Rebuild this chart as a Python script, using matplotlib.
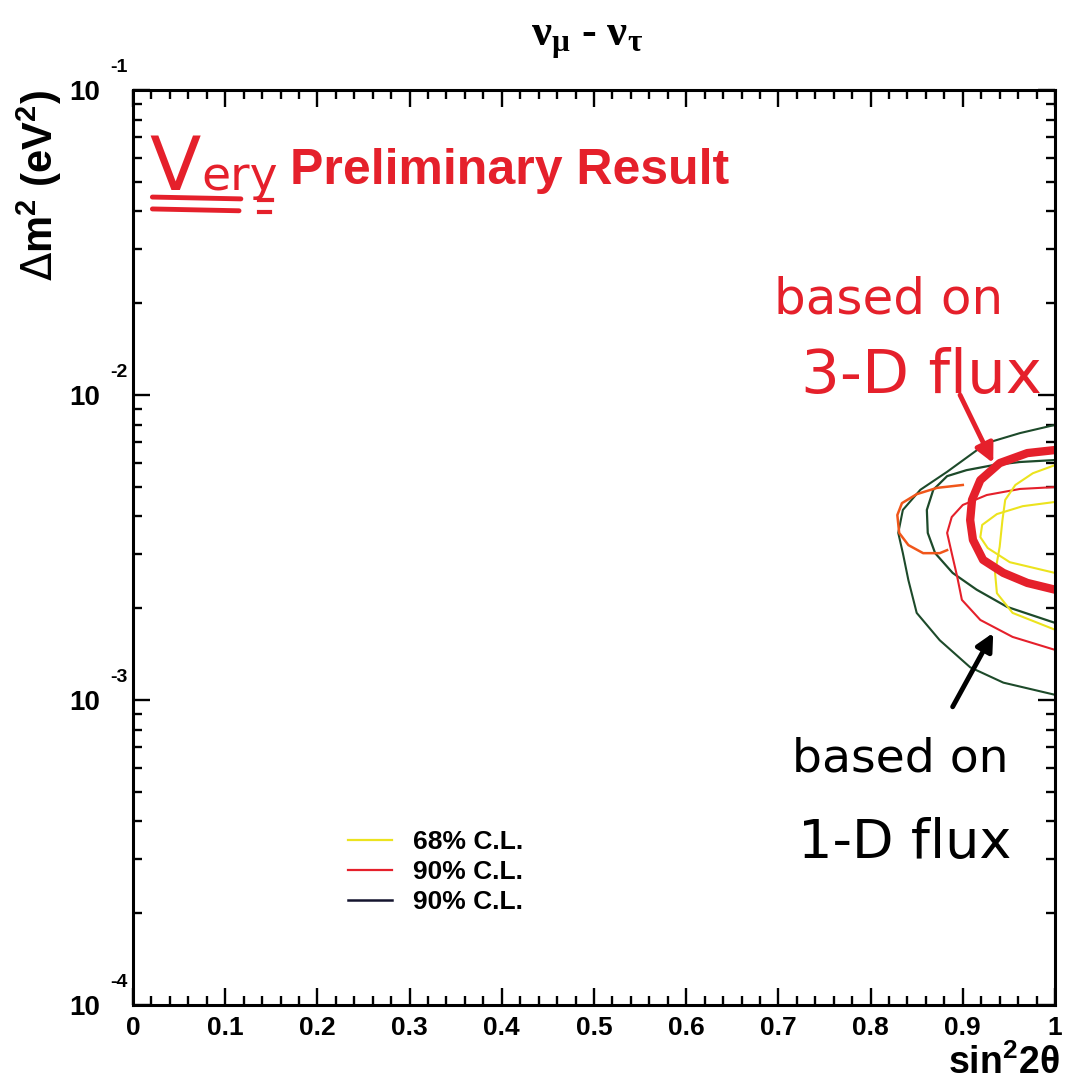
import matplotlib
matplotlib.use("Agg")
import matplotlib.pyplot as plt
from matplotlib.lines import Line2D
from matplotlib.ticker import FixedLocator, FixedFormatter, MultipleLocator, LogLocator, NullFormatter

# ---- data: sin^2(2theta) vs delta m^2 (eV^2) allowed-region contours ----
# 1-D flux, 90% C.L. (outer, dark line)
oned90_outer_x = [1.0, 0.962, 0.926, 0.883, 0.854, 0.835, 0.830, 0.835, 0.841, 0.850, 0.875, 0.908, 0.944, 1.0]
oned90_outer_y = [7.98e-3, 7.5e-3, 6.96e-3, 5.6e-3, 4.89e-3, 4.2e-3, 3.53e-3, 3.03e-3, 2.47e-3, 1.93e-3, 1.57e-3, 1.28e-3, 1.14e-3, 1.04e-3]

# 90% C.L. (inner, dark line)
black90_x = [1.0, 0.962, 0.933, 0.904, 0.883, 0.868, 0.861, 0.862, 0.870, 0.889, 0.915, 0.948, 1.0]
black90_y = [6.12e-3, 6.03e-3, 5.89e-3, 5.67e-3, 5.42e-3, 4.89e-3, 4.2e-3, 3.53e-3, 3.03e-3, 2.61e-3, 2.30e-3, 2.02e-3, 1.79e-3]

# 90% C.L. (thin red)
red90_x = [1.0, 0.962, 0.926, 0.900, 0.888, 0.883, 0.888, 0.894, 0.899, 0.919, 0.954, 1.0]
red90_y = [4.99e-3, 4.92e-3, 4.70e-3, 4.36e-3, 3.98e-3, 3.53e-3, 3.03e-3, 2.53e-3, 2.13e-3, 1.83e-3, 1.61e-3, 1.46e-3]

# 90% C.L. (orange island)
orange90_x = [0.900, 0.872, 0.850, 0.834, 0.829, 0.831, 0.841, 0.857, 0.875, 0.883]
orange90_y = [5.07e-3, 4.96e-3, 4.73e-3, 4.42e-3, 4.04e-3, 3.53e-3, 3.22e-3, 3.03e-3, 3.03e-3, 3.10e-3]

# 68% C.L. (outer yellow)
yel68_outer_x = [1.0, 0.976, 0.957, 0.946, 0.943, 0.940, 0.935, 0.937, 0.954, 1.0]
yel68_outer_y = [5.89e-3, 5.54e-3, 5.07e-3, 4.53e-3, 3.89e-3, 3.18e-3, 2.61e-3, 2.24e-3, 1.93e-3, 1.70e-3]

# 68% C.L. (inner yellow)
yel68_inner_x = [1.0, 0.965, 0.937, 0.921, 0.919, 0.927, 0.951, 1.0]
yel68_inner_y = [4.46e-3, 4.32e-3, 4.07e-3, 3.75e-3, 3.42e-3, 3.15e-3, 2.83e-3, 2.61e-3]

# 3-D flux, 90% C.L. (thick red)
threed90_x = [1.0, 0.970, 0.940, 0.919, 0.910, 0.908, 0.911, 0.922, 0.944, 0.970, 1.0]
threed90_y = [6.6e-3, 6.45e-3, 5.98e-3, 5.26e-3, 4.53e-3, 3.89e-3, 3.35e-3, 2.88e-3, 2.61e-3, 2.42e-3, 2.30e-3]

# axis ticks
x_ticks = [0.0, 0.1, 0.2, 0.3, 0.4, 0.5, 0.6, 0.7, 0.8, 0.9, 1.0]
x_ticklabels = ["0", "0.1", "0.2", "0.3", "0.4", "0.5", "0.6", "0.7", "0.8", "0.9", "1"]
y_ticks = [1e-4, 1e-3, 1e-2, 1e-1]
y_exponents = ["-4", "-3", "-2", "-1"]

legend_labels = ["68% C.L.", "90% C.L.", "90% C.L."]

# ---- styling ----
BOLD = "Liberation Sans"
SERIF = "Liberation Serif"
HAND = "DejaVu Sans"
RED = "#e5202b"
DARK = "#1d4a2a"
YELLOW = "#ece31e"
ORANGE = "#f0561a"

fig = plt.figure(figsize=(10.65, 10.84), dpi=100)
ax = fig.add_axes([133 / 1065, 79 / 1084, 922 / 1065, 915 / 1084])
ax.set_xlim(0, 1)
ax.set_yscale("log")
ax.set_ylim(1e-4, 1e-1)

# contours
ax.plot(oned90_outer_x, oned90_outer_y, color=DARK, lw=1.5, solid_joinstyle="round")
ax.plot(black90_x, black90_y, color=DARK, lw=1.6, solid_joinstyle="round")
ax.plot(orange90_x, orange90_y, color=ORANGE, lw=1.8, solid_joinstyle="round")
ax.plot(red90_x, red90_y, color=RED, lw=1.5, solid_joinstyle="round")
ax.plot(yel68_outer_x, yel68_outer_y, color=YELLOW, lw=1.5, solid_joinstyle="round")
ax.plot(yel68_inner_x, yel68_inner_y, color=YELLOW, lw=1.5, solid_joinstyle="round")
ax.plot(threed90_x, threed90_y, color=RED, lw=6.0, solid_capstyle="round", solid_joinstyle="round")

# frame and ticks (inside, all four sides)
for sp in ax.spines.values():
    sp.set_linewidth(2.2)
ax.tick_params(which="both", direction="in", top=True, right=True, width=1.7)
ax.tick_params(which="major", length=12)
ax.tick_params(which="minor", length=6.5)

ax.xaxis.set_major_locator(FixedLocator(x_ticks))
ax.xaxis.set_major_formatter(FixedFormatter(x_ticklabels))
ax.xaxis.set_minor_locator(MultipleLocator(0.02))
ax.tick_params(axis="x", which="major", pad=8)
for lab in ax.get_xticklabels():
    lab.set_fontfamily(BOLD)
    lab.set_fontweight("bold")
    lab.set_fontsize(19)

ax.yaxis.set_major_locator(FixedLocator(y_ticks))
ax.yaxis.set_major_formatter(FixedFormatter(["10"] * len(y_ticks)))
ax.yaxis.set_minor_locator(LogLocator(base=10, subs=(2, 3, 4, 5, 6, 7, 8, 9), numticks=20))
ax.yaxis.set_minor_formatter(NullFormatter())
ax.tick_params(axis="y", which="major", pad=24)
for lab in ax.get_yticklabels():
    lab.set_fontfamily(BOLD)
    lab.set_fontweight("bold")
    lab.set_fontsize(20)

for yv, ex in zip(y_ticks, y_exponents):
    ax.annotate(ex, xy=(-0.025, yv), xycoords=("axes fraction", "data"),
                xytext=(0, 16), textcoords="offset points",
                ha="left", va="center", fontsize=14, fontweight="bold",
                family=BOLD, annotation_clip=False)

# axis labels
ax.text(-0.102, 1.0, r"$\Delta$m$^\mathregular{2}$ (eV$^\mathregular{2}$)", transform=ax.transAxes,
        rotation=90, ha="center", va="top", fontsize=30, fontweight="bold", family=BOLD)
ax.text(1.005, -0.0754, r"sin$^\mathregular{2}$2$\mathregular{\theta}$", transform=ax.transAxes,
        ha="right", va="baseline", fontsize=27, fontweight="bold", family=BOLD)

# title
ax.text(0.493, 1.054, r"$\mathregular{\nu_{\mu}}$ - $\mathregular{\nu_{\tau}}$", transform=ax.transAxes,
        ha="center", va="center", fontsize=32, family=SERIF, fontweight="bold")

# legend
handles = [Line2D([], [], color=YELLOW, lw=1.6),
           Line2D([], [], color=RED, lw=1.6),
           Line2D([], [], color="#14142e", lw=1.8)]
leg = ax.legend(handles, legend_labels, loc="center left", bbox_to_anchor=(0.207, 0.145),
                frameon=False, handlelength=1.7, handletextpad=0.76, labelspacing=0.23,
                borderpad=0.4, prop={"family": BOLD, "weight": "bold", "size": 19})

# annotations
ax.text(0.018, 0.891, "V", transform=ax.transAxes, color=RED, fontsize=54,
        family=HAND, ha="left", va="baseline")
ax.text(0.074, 0.891, "ery", transform=ax.transAxes, color=RED, fontsize=34,
        family=HAND, ha="left", va="baseline")
ax.plot([0.021, 0.117], [0.883, 0.881], transform=ax.transAxes, color=RED, lw=3.5,
        solid_capstyle="round", clip_on=False)
ax.plot([0.021, 0.115], [0.870, 0.868], transform=ax.transAxes, color=RED, lw=3.5,
        solid_capstyle="round", clip_on=False)
ax.plot([0.137, 0.151], [0.880, 0.880], transform=ax.transAxes, color=RED, lw=3.0)
ax.plot([0.137, 0.149], [0.867, 0.867], transform=ax.transAxes, color=RED, lw=3.0)
ax.text(0.170, 0.897, "Preliminary Result", transform=ax.transAxes, color=RED,
        fontsize=36, fontweight="bold", family=BOLD, ha="left", va="baseline")

ax.text(0.819, 0.756, "based on", transform=ax.transAxes, color=RED, fontsize=36,
        family=HAND, ha="center", va="baseline")
ax.text(0.855, 0.669, "3-D flux", transform=ax.transAxes, color=RED, fontsize=44,
        family=HAND, ha="center", va="baseline")
ax.text(0.832, 0.255, "based on", transform=ax.transAxes, color="black", fontsize=34,
        family=HAND, ha="center", va="baseline")
ax.text(0.837, 0.161, "1-D flux", transform=ax.transAxes, color="black", fontsize=39,
        family=HAND, ha="center", va="baseline")

ax.annotate("", xy=(0.933, 5.98e-3), xytext=(0.897, 1.0e-2),
            arrowprops=dict(arrowstyle="-|>", color=RED, lw=3.5, mutation_scale=28,
                            shrinkA=0, shrinkB=0))
ax.annotate("", xy=(0.933, 1.66e-3), xytext=(0.889, 9.5e-4),
            arrowprops=dict(arrowstyle="-|>", color="black", lw=3.5, mutation_scale=26,
                            shrinkA=0, shrinkB=0))

fig.savefig("out.png", dpi=100)
